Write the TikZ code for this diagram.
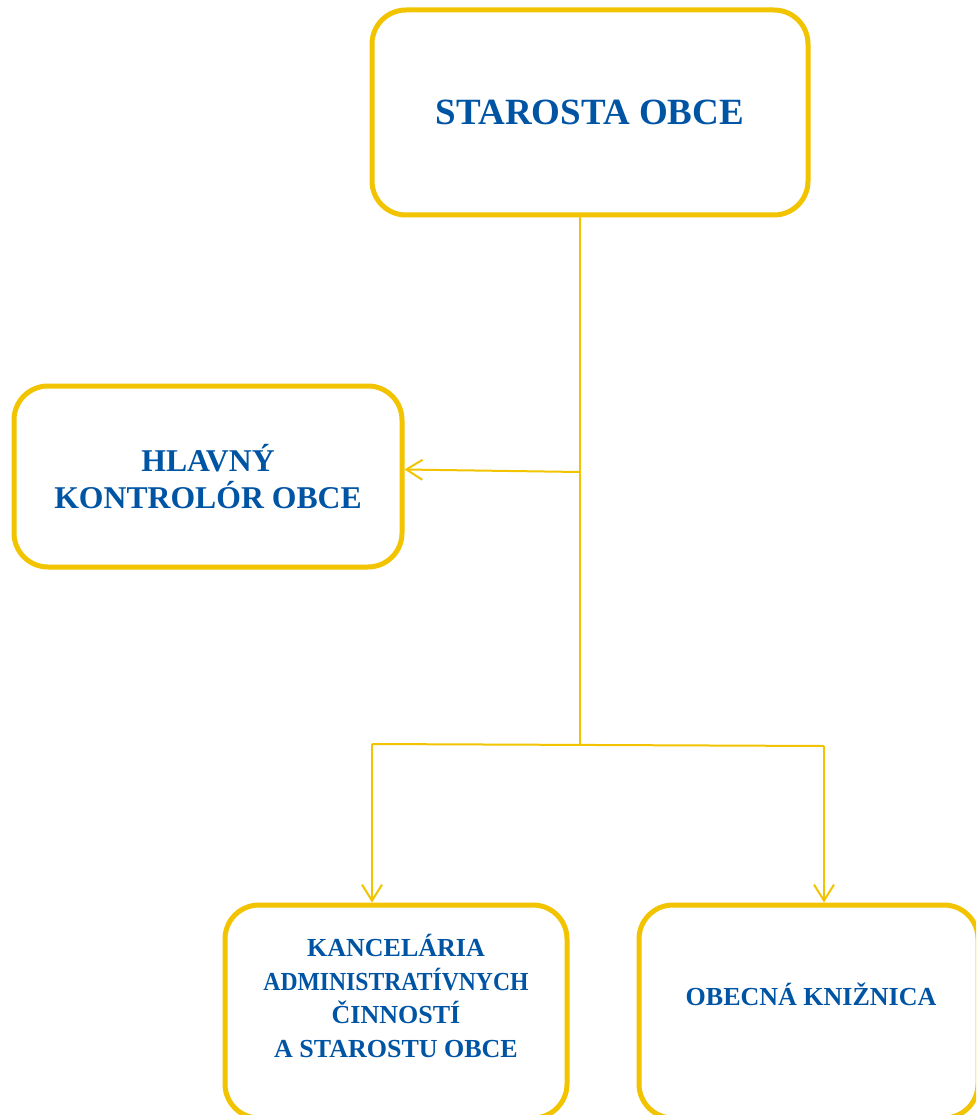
\documentclass[tikz,border=0pt]{standalone}
\usepackage{fontspec}
\setmainfont{Liberation Serif}
\usetikzlibrary{arrows.meta}
\definecolor{gold}{RGB}{242,196,0}
\definecolor{tblue}{RGB}{0,84,164}
\begin{document}
\begin{tikzpicture}[x=1pt,y=-1pt,
  box/.style={draw=gold, line width=5pt, rounded corners=34pt, fill=white, inner sep=0pt},
  txt/.style={text=tblue, align=center, inner sep=0pt},
  conn/.style={draw=gold, line width=2pt},
  arr/.style={conn, -{Straight Barb[length=16pt,width=20pt]}}]
\useasboundingbox (0,0) rectangle (976,1115);
\clip (0,0) rectangle (976,1115);
\fill[white] (0,0) rectangle (976,1115);

% boxes
\node[box, minimum width=436pt, minimum height=205pt, txt, font=\fontsize{37}{44}\selectfont\bfseries]
  (top) at (590,112.5) {STAROSTA OBCE};
\node[box, minimum width=388pt, minimum height=181pt, txt, font=\fontsize{31.7}{37}\selectfont\bfseries]
  (hk) at (208,476.5) {HLAVNÝ\\KONTROLÓR OBCE};
\node[box, minimum width=342pt, minimum height=213pt] (kbox) at (396,1011.5) {};
\node[box, minimum width=339pt, minimum height=213pt] (obox) at (808.5,1011.5) {};

\node[txt, font=\fontsize{26}{33.6}\selectfont\bfseries] (ktxt) at (396,996)
  {KANCELÁRIA\\\scalebox{0.91}[1]{ADMINISTRATÍVNYCH}\\ČINNOSTÍ\\A STAROSTU OBCE};
\node[txt, font=\fontsize{26}{32}\selectfont\bfseries] (otxt) at (811,994) {OBECNÁ KNIŽNICA};

% connectors
\coordinate (v1) at (580,745);
\coordinate (vh) at (580,472);
\coordinate (hl) at (372,744);
\coordinate (hr) at (824,746);
\draw[conn] (v1 |- top.south) -- (v1);
\draw[arr] (vh) -- ([yshift=7pt]hk.east);
\draw[conn] (hl) -- (hr);
\draw[arr] (hl) -- (hl |- kbox.north);
\draw[arr] (hr) -- (hr |- obox.north);
\end{tikzpicture}
\end{document}
